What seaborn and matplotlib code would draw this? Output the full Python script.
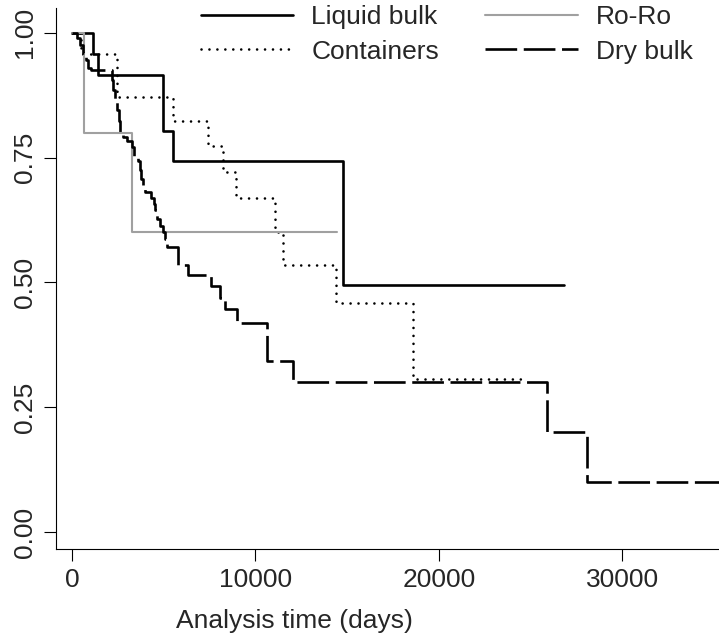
import pandas as pd
import seaborn as sns
import matplotlib
matplotlib.use('Agg')
import matplotlib.pyplot as plt

# Kaplan-Meier estimates (time in days, survival)
liquid_t = [0, 1120, 1400, 4980, 5520, 14790]
liquid_s = [1.0, 0.958, 0.915, 0.804, 0.744, 0.494]
liquid_end = 26840

containers_t = [0, 500, 2440, 5520, 7400, 8250, 8915, 11070, 11520, 14395, 18610]
containers_s = [1.0, 0.958, 0.871, 0.823, 0.774, 0.721, 0.669, 0.600, 0.535, 0.458, 0.307]
containers_end = 24790

roro_t = [0, 670, 3255]
roro_s = [1.0, 0.8, 0.6]
roro_end = 14470

dry_t = [0, 250, 450, 600, 750, 850, 1050,
         2165, 2250, 2345, 2470, 2540, 2617,
         2764, 2982, 3255, 3380, 3620, 3700, 3780, 3855,
         3980, 4290, 4450, 4525, 4620, 4800, 4950, 5070, 5160,
         5800, 6340, 7580, 8070, 8340, 8980, 10620, 12070, 25880, 28100]
dry_s = [1.0, 0.99, 0.975, 0.96, 0.945, 0.93, 0.925,
         0.905, 0.885, 0.868, 0.845, 0.823, 0.801,
         0.791, 0.784, 0.771, 0.754, 0.744, 0.725, 0.708, 0.690,
         0.682, 0.670, 0.657, 0.644, 0.627, 0.613, 0.600, 0.587, 0.570,
         0.534, 0.515, 0.493, 0.469, 0.446, 0.419, 0.342, 0.301, 0.201, 0.101]
dry_end = 36000

x_ticks = [0, 10000, 20000, 30000]
y_ticks = [0.0, 0.25, 0.5, 0.75, 1.0]

sns.set_style('ticks')
plt.rcParams['font.family'] = ['Liberation Sans', 'DejaVu Sans']


def steps(t, s, end):
    return pd.DataFrame({'time': t + [end], 'surv': s + [s[-1]]})


fig = plt.figure(figsize=(7.19, 6.37), dpi=100)
ax = fig.add_axes([0.0775, 0.138, 0.9225, 0.849])

series = [
    ('Liquid bulk', liquid_t, liquid_s, liquid_end,
     dict(color='black', lw=1.9, linestyle='-')),
    ('Containers', containers_t, containers_s, containers_end,
     dict(color='black', lw=1.9, linestyle=(0, (0.01, 3.0)), dash_capstyle='round')),
    ('Ro-Ro', roro_t, roro_s, roro_end,
     dict(color='#a0a0a0', lw=1.5, linestyle='-')),
    ('Dry bulk', dry_t, dry_s, dry_end,
     dict(color='black', lw=1.9, linestyle=(0, (12, 2.5)))),
]

for name, t, s, end, kw in series:
    d = steps(t, s, end)
    sns.lineplot(data=d, x='time', y='surv', drawstyle='steps-post',
                 estimator=None, label=name, ax=ax, **kw)

ax.set_xlim(-889, 35280)
ax.set_ylim(-0.0342, 1.049)
ax.set_xticks(x_ticks)
ax.set_xticklabels([str(v) for v in x_ticks])
ax.set_yticks(y_ticks)
ax.set_yticklabels(['%.2f' % v for v in y_ticks])
ax.tick_params(length=8.5, width=0.8, labelsize=19, pad=5, direction='out', color='black')
ax.tick_params(axis='y', labelrotation=90)
for lbl in ax.get_yticklabels():
    lbl.set_va('center')

sns.despine(ax=ax)
for sp in ['left', 'bottom']:
    ax.spines[sp].set_linewidth(0.8)
    ax.spines[sp].set_color('black')

ax.set_ylabel('')
ax.set_xlabel('Analysis time (days)', fontsize=19)
ax.xaxis.set_label_coords(294 / 719, 1 - 621 / 637, transform=fig.transFigure)
ax.xaxis.label.set_va('center')

ax.legend(loc='upper right', bbox_to_anchor=(693 / 719, 1 - 5 / 637),
          bbox_transform=fig.transFigure, ncol=2, frameon=False, fontsize=19,
          handlelength=3.5, handletextpad=0.7, columnspacing=1.75,
          labelspacing=0.4, borderpad=0, borderaxespad=0)

fig.savefig('out.png', dpi=100)
